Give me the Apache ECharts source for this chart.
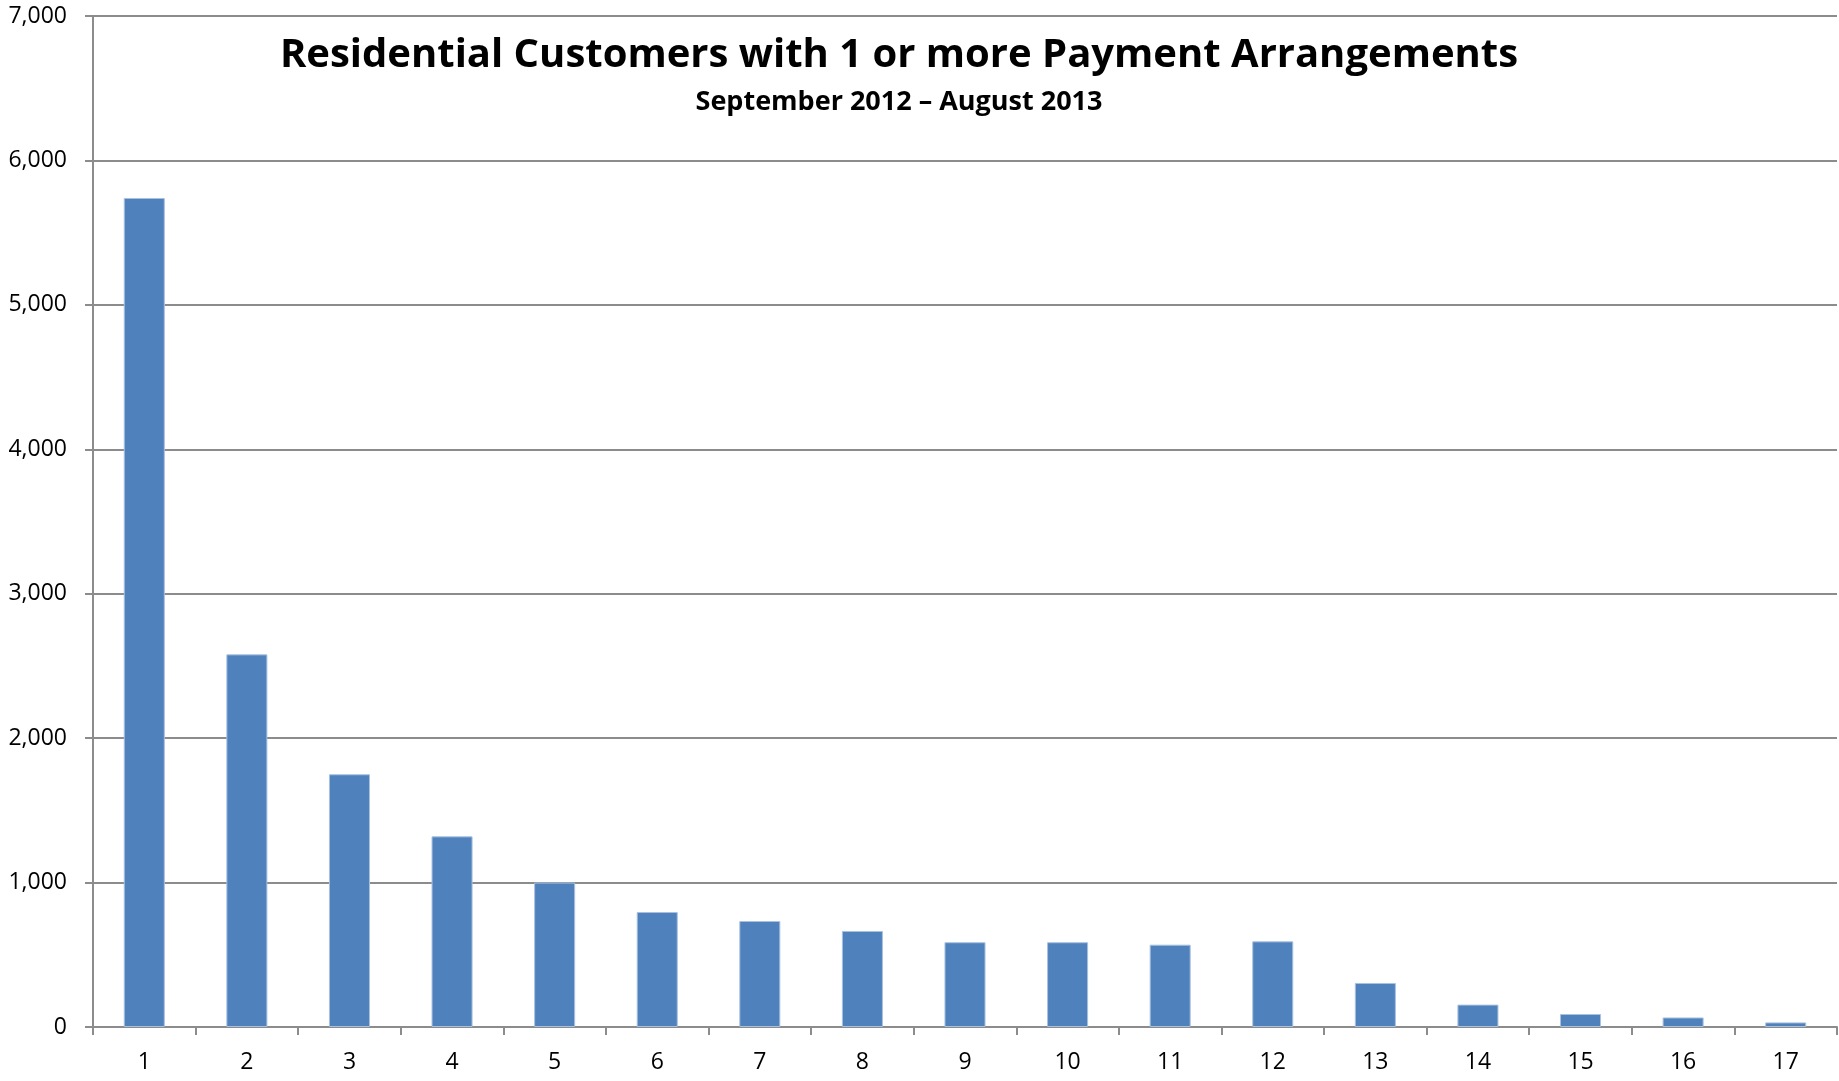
<!DOCTYPE html>
<html>
<head>
<meta charset="utf-8">
<title>Residential Customers with 1 or more Payment Arrangements</title>
<script src="https://cdn.jsdelivr.net/npm/echarts@6/dist/echarts.min.js"></script>
<style>
  html, body { margin: 0; padding: 0; background: #ffffff; }
  #chart { width: 1839px; height: 1081px; }
</style>
</head>
<body>
<div id="chart"></div>
<script>
// Number of payment arrangements per customer (x) and customer counts (y)
const arrangementCounts = ['1', '2', '3', '4', '5', '6', '7', '8', '9', '10', '11', '12', '13', '14', '15', '16', '17'];
const customerCounts = [5740, 2580, 1750, 1320, 1000, 796, 734, 665, 587, 587, 570, 593, 305, 155, 90, 66, 32];

const titleText = 'Residential Customers with 1 or more Payment Arrangements';
const subtitleText = 'September 2012 \u2013 August 2013';

const yMin = 0;
const yMax = 7000;
const yStep = 1000;

const gridGray = '#8c8c8c';
const barBlue = '#4f81bd';
const textFont = '"Open Sans", "Noto Sans", "Liberation Sans", sans-serif';

const chart = echarts.init(document.getElementById('chart'), null, { renderer: 'canvas' });

chart.setOption({
  backgroundColor: '#ffffff',
  animation: false,
  title: [
    {
      text: titleText,
      left: 894,
      top: 26,
      textAlign: 'center',
      textStyle: { fontFamily: textFont, fontWeight: 'bold', fontSize: 40, color: '#000000', lineHeight: 50 }
    },
    {
      text: subtitleText,
      left: 894,
      top: 81,
      textAlign: 'center',
      textStyle: { fontFamily: textFont, fontWeight: 'bold', fontSize: 27, color: '#000000', lineHeight: 33 }
    }
  ],
  grid: { left: 93, right: 2, top: 16, bottom: 54, containLabel: false },
  xAxis: {
    type: 'category',
    data: arrangementCounts,
    axisLine: { show: true, lineStyle: { color: gridGray, width: 2 } },
    axisTick: { show: true, alignWithLabel: false, length: 8, lineStyle: { color: gridGray, width: 2 } },
    axisLabel: { fontFamily: textFont, fontSize: 23, color: '#000000', margin: 24 },
    splitLine: { show: false }
  },
  yAxis: {
    type: 'value',
    min: yMin,
    max: yMax,
    interval: yStep,
    axisLine: { show: true, lineStyle: { color: gridGray, width: 2 } },
    axisTick: { show: true, length: 8, lineStyle: { color: gridGray, width: 2 } },
    axisLabel: {
      fontFamily: textFont,
      fontSize: 23,
      color: '#000000',
      margin: 26,
      formatter: v => v.toLocaleString('en-US')
    },
    splitLine: { show: true, lineStyle: { color: gridGray, width: 2 } }
  },
  series: [
    {
      type: 'bar',
      data: customerCounts,
      barWidth: '40%',
      itemStyle: { color: barBlue, borderColor: '#a9c1df', borderWidth: 1 }
    }
  ]
});
</script>
</body>
</html>
